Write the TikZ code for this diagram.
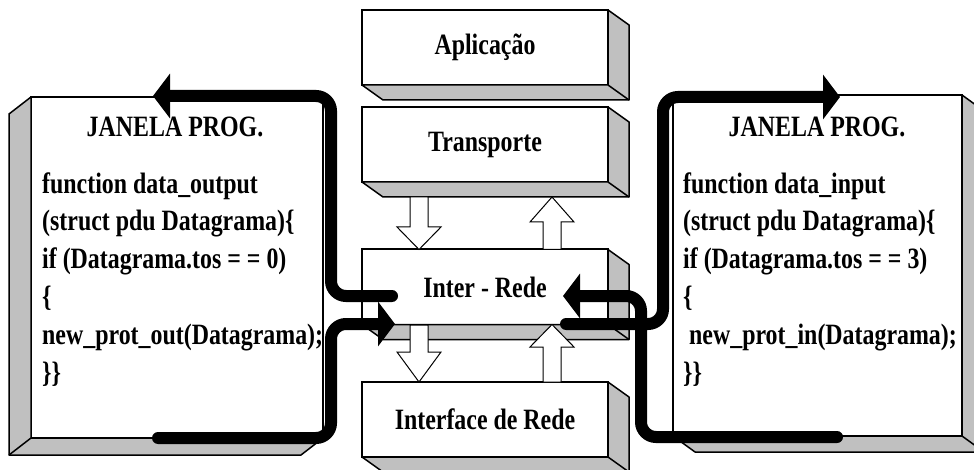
\documentclass[tikz,border=0pt]{standalone}
\usepackage{fontspec}
\setmainfont{Liberation Serif}[FakeStretch=0.81]
\usetikzlibrary{arrows.meta}
\definecolor{depthgray}{RGB}{192,192,192}
\newcommand{\bigbold}{\fontsize{29.5}{37.8}\selectfont\bfseries}
\tikzset{
  layer/.style={draw, fill=white, line width=2pt, minimum width=246, minimum height=75, outer sep=0pt, font=\bigbold},
  sidebox/.style={draw, fill=white, line width=1.5pt, outer sep=0pt},
  depth/.style={draw, fill=depthgray, line width=1.5pt, line join=round},
  codetext/.style={align=left, inner sep=0pt, font=\bigbold},
  titletext/.style={inner sep=0pt, font=\bigbold},
  holarrow/.style={draw, fill=white, line width=1pt},
  flow/.style={line width=12pt, rounded corners=15pt, line cap=round, -{Triangle[length=17pt 0 0, width=44pt 0 0]}}
}
% depth of a layer box (right and bottom faces)
\newcommand{\layerdepth}[1]{%
  \draw[depth] (#1.north east) -- ([shift={(21,15)}]#1.north east) -- ([shift={(21,15)}]#1.south east)
    -- ([shift={(21,15)}]#1.south west) -- (#1.south west) -- (#1.south east) -- cycle;
  \draw[depth] (#1.south east) -- ++(21,15);}
% hollow arrow: x, start y, head base y, tip y
\newcommand{\holarrow}[4]{%
  \draw[holarrow] ({#1-9},#2) -- ({#1+9},#2) -- ({#1+9},#3) -- ({#1+22},#3) -- (#1,#4)
    -- ({#1-22},#3) -- ({#1-9},#3) -- cycle;}
\begin{document}
\begin{tikzpicture}[x=1pt, y=-1pt]
\useasboundingbox (0,0) rectangle (974,470);
% protocol layers
\node[layer] (apl) at (485,47.5) {Aplicação};
\layerdepth{apl}
\node[layer] (trans) at (485,144.5) {Transporte};
\layerdepth{trans}
\node[layer] (inter) at (485,287) {Inter - Rede};
\layerdepth{inter}
\node[layer] (iface) at (485,419.5) {Interface de Rede};
\layerdepth{iface}
\holarrow{419}{197}{227}{249.5}
\holarrow{552}{249.5}{222}{197}
\holarrow{419}{325}{352}{382}
\holarrow{552}{382}{347}{324.5}
% left window
\node[sidebox, minimum width=292, minimum height=341] (janL) at (177,267.5) {};
\draw[depth] (janL.north west) -- ([shift={(-22,17)}]janL.north west) -- ([shift={(-22,17)}]janL.south west)
  -- ([shift={(-22,17)}]janL.south east) -- (janL.south east) -- (janL.south west) -- cycle;
\draw[depth] (janL.south west) -- ++(-22,17);
\node[titletext, anchor=base] (titleL) at (175,137) {JANELA PROG.};
\node[codetext, anchor=base west] (codeL) at (42,382) {function data\_output\\(struct pdu Datagrama)\{\\if (Datagrama.tos = = 0)\\\{\\new\_prot\_out(Datagrama);\\\}\}};
% right window
\node[sidebox, minimum width=289, minimum height=341] (janR) at (817.5,265.5) {};
\draw[depth] (janR.north east) -- ([shift={(22,16)}]janR.north east) -- ([shift={(22,16)}]janR.south east)
  -- ([shift={(22,16)}]janR.south west) -- (janR.south west) -- (janR.south east) -- cycle;
\draw[depth] (janR.south east) -- ++(22,16);
\node[titletext, anchor=base] (titleR) at (817,137) {JANELA PROG.};
\node[codetext, anchor=base west] (codeR) at (683,382) {function data\_input\\(struct pdu Datagrama)\{\\if (Datagrama.tos = = 3)\\\{\\\ new\_prot\_in(Datagrama);\\\}\}};
% flow of datagrams
\coordinate (outL) at (392,296);
\coordinate (topL) at (153,96);
\coordinate (botL) at (158,438);
\coordinate (inL) at (395,324);
\coordinate (outR) at (566,324);
\coordinate (topR) at (840,97);
\coordinate (botR) at (837,437);
\coordinate (inR) at (563,296);
\draw[flow] (outL) -| (331,96) -- (topL);
\draw[flow] (botL) -| (331,324) -- (inL);
\draw[flow] (outR) -| (663,97) -- (topR);
\draw[flow] (botR) -| (641,296) -- (inR);
\end{tikzpicture}
\end{document}
